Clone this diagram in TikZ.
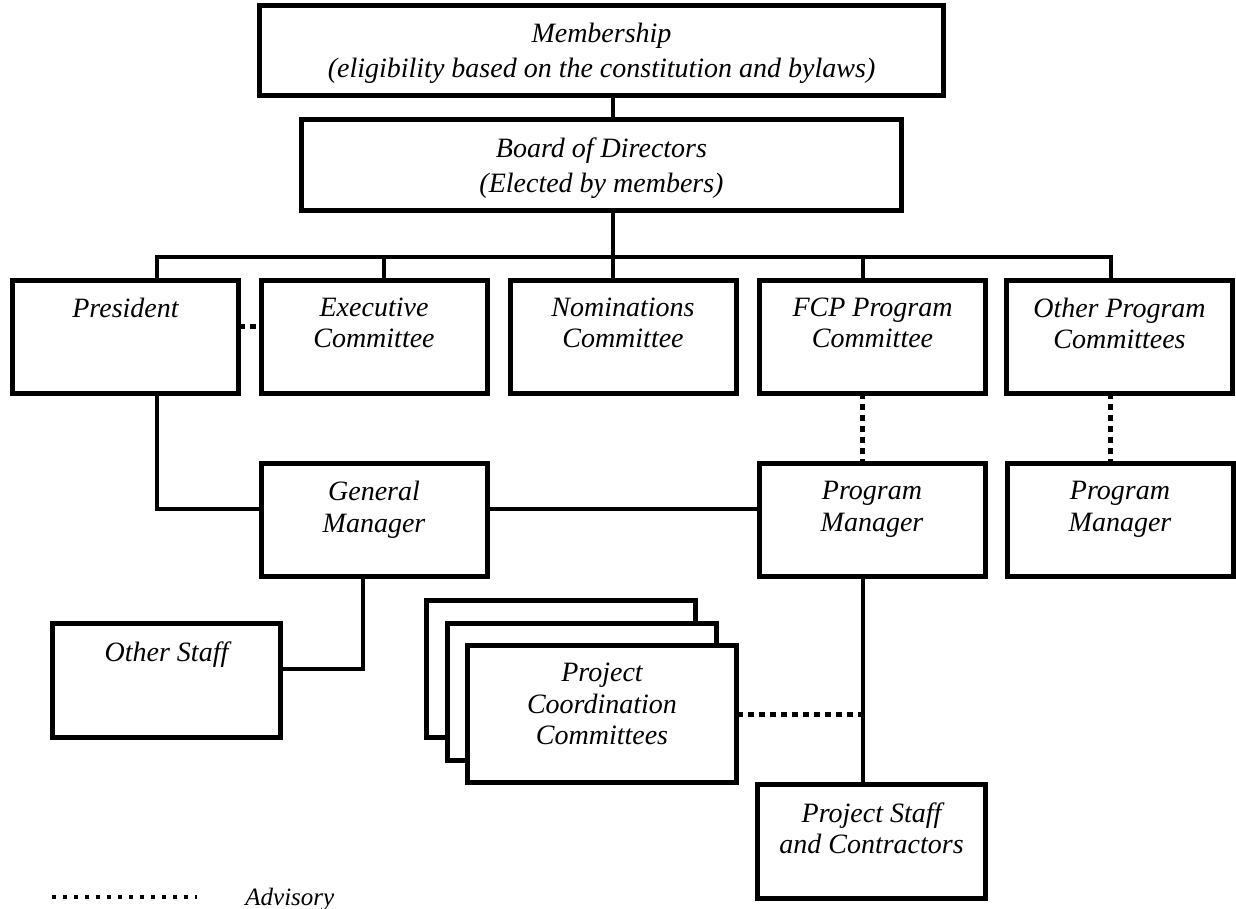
\documentclass[tikz,border=0pt]{standalone}
\usepackage{fontspec}
\setmainfont{Liberation Serif}
\usetikzlibrary{positioning}
\tikzset{
  orgbox/.style={draw,line width=2.5pt,fill=white,inner sep=0pt,outer sep=0pt,
                 minimum width=113pt,minimum height=56.5pt},
  txt/.style   ={anchor=north,yshift=-8.75pt,inner sep=0pt,align=center,
                 font=\fontsize{14pt}{15.75pt}\selectfont\itshape},
  toptxt/.style={txt,font=\fontsize{14pt}{17.5pt}\selectfont\itshape},
  link/.style  ={line width=2pt},
  adv/.style   ={line width=2.5pt,dash pattern=on 3pt off 2.5pt},
}

\begin{document}
\begin{tikzpicture}[x=0.5pt,y=-0.5pt]
  \path[use as bounding box,fill=white] (0,0) rectangle (1236,909);

  % governance
  \node[orgbox,minimum width=342pt,minimum height=45pt,
        label={[toptxt]north:{Membership\\(eligibility based on the constitution and bylaws)}}]
        (memb) at (601.5,50.5) {};
  \node[orgbox,minimum width=300pt,minimum height=45.5pt,
        label={[toptxt]north:{Board of Directors\\(Elected by members)}}]
        (board) at (601.5,165) {};

  \node[orgbox,label={[txt]north:{President}}]                 (pres)  at (125.5,336.5) {};
  \node[orgbox,label={[txt]north:{Executive\\Committee}}]      (exec)  at (374,336.5) {};
  \node[orgbox,label={[txt]north:{Nominations\\Committee}}]    (nom)   at (623,336.5) {};
  \node[orgbox,label={[txt]north:{FCP Program\\Committee}}]    (fcp)   at (872.5,336.5) {};
  \node[orgbox,label={[txt]north:{Other Program\\Committees}}] (other) at (1119.5,336.5) {};

  % staff
  \node[orgbox,label={[txt]north:{General\\Manager}}] (gm)  at (374,520) {};
  \node[orgbox,label={[txt]north:{Program\\Manager}}] (pm)  at (872,520) {};
  \node[orgbox,label={[txt]north:{Program\\Manager}}] (pm2) at (1120,520) {};
  \node[orgbox,minimum width=114pt,minimum height=57pt,
        label={[txt]north:{Other Staff}}] (ostaff) at (166.5,680.5) {};

  \node[orgbox,minimum width=134.5pt,minimum height=68.5pt] (pcc3) at (560.5,669) {};
  \node[orgbox,minimum width=134.5pt,minimum height=68.5pt] (pcc2) at (581.5,692) {};
  \node[orgbox,minimum width=134.5pt,minimum height=68.5pt,
        label={[txt]north:{Project\\Coordination\\Committees}}] (pcc) at (602,714) {};
  \node[orgbox,minimum width=114pt,minimum height=57pt,
        label={[txt]north:{Project Staff\\and Contractors}}] (pstaff) at (871.5,841.5) {};

  \coordinate (trunk) at (613,257);
  \coordinate (pres-n) at ([xshift=15.5pt]pres.north);
  \coordinate (exec-n) at ([xshift=5pt]exec.north);
  \coordinate (fcp-n)  at ([xshift=-5pt]fcp.north);
  \coordinate (oth-n)  at ([xshift=-4.5pt]other.north);

  \draw[link] (memb.south -| trunk) -- (board.north -| trunk);
  \draw[link] (board.south -| trunk) -- (nom.north -| trunk);
  \draw[link] (pres-n) |- (oth-n |- trunk) -- (oth-n);
  \draw[link] (exec-n) -- (exec-n |- trunk);
  \draw[link] (fcp-n) -- (fcp-n |- trunk);

  \draw[link] (pres.south -| pres-n) |- ([yshift=5.5pt]gm.west);
  \draw[link] ([yshift=5.5pt]gm.east) -- ([yshift=5.5pt]pm.west);
  \draw[link] ([xshift=-5.5pt]gm.south) |- ([yshift=6pt]ostaff.east);
  \draw[link] (pm.south -| fcp-n) -- (pstaff.north -| fcp-n);

  \draw[adv] ([yshift=5pt]pres.east) -- ([yshift=5pt]exec.west);
  \draw[adv] (fcp.south -| fcp-n) -- (pm.north -| fcp-n);
  \draw[adv] (other.south -| oth-n) -- (pm2.north -| oth-n);
  \draw[adv] (pcc.east) -- (pcc.east -| fcp-n);

  % legend
  \coordinate (lgA) at (52,897);
  \coordinate (lgB) at (197,897);
  \draw[adv,line width=2pt,dash pattern=on 2pt off 3.5pt] (lgA) -- (lgB);
  \node[anchor=base west,inner sep=0pt,font=\fontsize{12.5pt}{14pt}\selectfont\itshape]
        (advlbl) at (245,905) {Advisory};
\end{tikzpicture}
\end{document}
